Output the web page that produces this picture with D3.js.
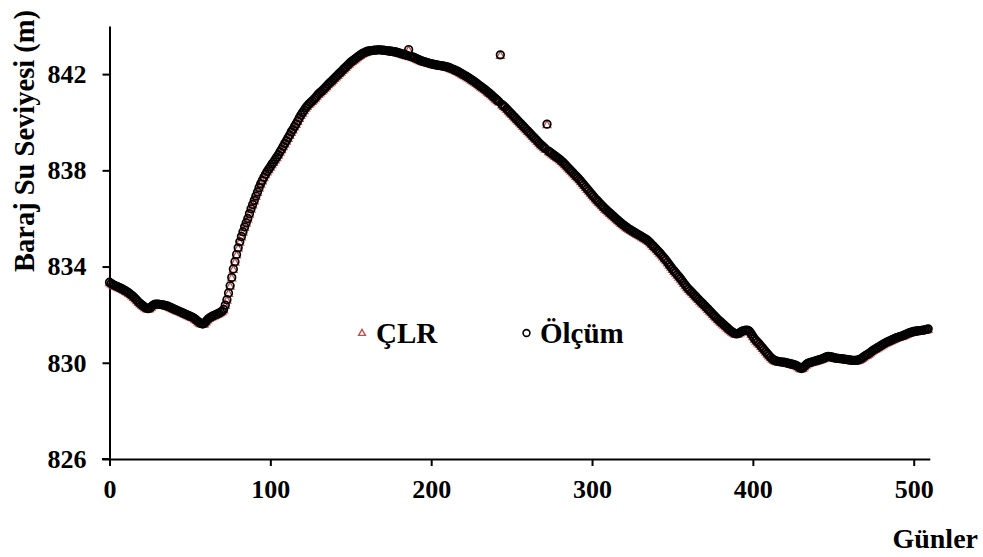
<!DOCTYPE html>
<html><head><meta charset="utf-8">
<script src="https://cdn.jsdelivr.net/npm/d3@7"></script>
<style>body{margin:0;background:#fff}svg{display:block}text{font-family:"Liberation Serif","Times New Roman",serif;font-weight:bold;fill:#000}</style>
</head><body><div id="chart"></div>
<script>
// Daily water level readings (day index = array index)
const olcum = [
833.35,833.30,833.26,833.22,833.19,833.16,833.13,833.10,833.07,833.03,
832.99,832.95,832.90,832.85,832.80,832.74,832.67,832.60,832.53,832.47,
832.41,832.36,832.31,832.27,832.25,832.27,832.33,832.39,832.43,832.44,
832.44,832.43,832.42,832.41,832.40,832.38,832.36,832.33,832.30,832.27,
832.24,832.21,832.18,832.15,832.12,832.09,832.06,832.03,832.00,831.97,
831.94,831.91,831.88,831.83,831.78,831.72,831.67,831.63,831.61,831.64,
831.72,831.80,831.86,831.90,831.94,831.97,832.00,832.03,832.06,832.10,
832.14,832.22,832.40,832.62,832.90,833.20,833.55,833.90,834.20,834.50,
834.78,835.03,835.25,835.45,835.65,835.82,836.00,836.20,836.40,836.58,
836.75,836.93,837.10,837.28,837.44,837.58,837.71,837.84,837.95,838.05,
838.15,838.26,838.35,838.45,838.55,838.65,838.77,838.88,839.00,839.12,
839.23,839.35,839.47,839.60,839.70,839.82,839.93,840.05,840.18,840.30,
840.40,840.50,840.60,840.68,840.76,840.82,840.88,840.95,841.02,841.10,
841.18,841.24,841.30,841.36,841.43,841.50,841.58,841.64,841.70,841.77,
841.84,841.90,841.97,842.04,842.10,842.17,842.24,842.30,842.37,842.43,
842.50,842.55,842.60,842.65,842.70,842.75,842.80,842.85,842.88,842.91,
842.94,842.96,842.97,842.98,842.99,843.00,843.00,843.01,843.01,843.00,
843.00,842.99,842.98,842.97,842.96,842.95,842.94,842.93,842.92,842.90,
842.88,842.86,842.84,842.82,842.80,842.78,843.02,842.74,842.72,842.70,
842.67,842.64,842.61,842.58,842.55,842.53,842.51,842.49,842.47,842.45,
842.43,842.41,842.40,842.39,842.37,842.36,842.35,842.34,842.33,842.31,
842.30,842.28,842.25,842.22,842.19,842.16,842.13,842.10,842.06,842.02,
841.98,841.94,841.90,841.86,841.82,841.77,841.73,841.68,841.63,841.58,
841.53,841.48,841.43,841.38,841.33,841.27,841.22,841.16,841.10,841.04,
840.98,840.92,840.86,842.80,840.74,840.68,840.62,840.55,840.48,840.41,
840.34,840.27,840.20,840.13,840.06,839.99,839.92,839.85,839.78,839.71,
839.64,839.57,839.50,839.43,839.36,839.29,839.22,839.15,839.08,839.02,
838.96,838.90,839.92,838.80,838.75,838.70,838.65,838.60,838.55,838.50,
838.45,838.39,838.33,838.26,838.19,838.12,838.05,837.98,837.91,837.84,
837.77,837.70,837.63,837.55,837.47,837.39,837.31,837.23,837.15,837.07,
836.99,836.91,836.83,836.76,836.69,836.62,836.55,836.48,836.41,836.35,
836.29,836.23,836.17,836.11,836.05,835.99,835.93,835.87,835.81,835.76,
835.71,835.66,835.61,835.56,835.52,835.48,835.44,835.40,835.36,835.32,
835.28,835.24,835.20,835.16,835.12,835.06,835.00,834.93,834.86,834.79,
834.72,834.65,834.58,834.50,834.42,834.34,834.26,834.17,834.08,833.99,
833.90,833.82,833.74,833.66,833.58,833.50,833.41,833.32,833.23,833.14,
833.07,833.00,832.93,832.86,832.79,832.72,832.65,832.58,832.51,832.45,
832.38,832.31,832.24,832.17,832.10,832.03,831.96,831.89,831.82,831.76,
831.70,831.64,831.58,831.52,831.46,831.40,831.34,831.29,831.25,831.21,
831.20,831.22,831.26,831.30,831.33,831.35,831.36,831.35,831.30,831.20,
831.10,831.00,830.92,830.85,830.78,830.70,830.62,830.54,830.46,830.38,
830.30,830.23,830.17,830.12,830.09,830.07,830.05,830.04,830.03,830.03,
830.02,830.00,829.98,829.96,829.95,829.93,829.91,829.89,829.85,829.80,
829.76,829.78,829.85,829.92,829.97,830.00,830.02,830.04,830.06,830.08,
830.10,830.12,830.14,830.16,830.19,830.22,830.25,830.26,830.25,830.24,
830.22,830.20,830.19,830.18,830.17,830.17,830.16,830.15,830.14,830.13,
830.12,830.11,830.10,830.10,830.10,830.11,830.13,830.16,830.20,830.25,
830.30,830.34,830.38,830.43,830.48,830.53,830.57,830.61,830.65,830.69,
830.73,830.77,830.81,830.85,830.88,830.91,830.94,830.97,831.00,831.03,
831.06,831.08,831.10,831.12,831.15,831.18,831.21,831.24,831.26,831.28,
831.30,831.31,831.32,831.33,831.34,831.35,831.36,831.37,831.39,831.41
];
// ÇLR model output coincides with the measurements in the picture
const clr = olcum;
const seriesNames = ["ÇLR", "Ölçüm"];
const xTicks = [0, 100, 200, 300, 400, 500];
const yTicks = [826, 830, 834, 838, 842];

const W = 983, H = 557;
const svg = d3.select("#chart").append("svg").attr("width", W).attr("height", H);
const x = d3.scaleLinear().domain([0, 510]).range([109.5, 929.8]);
const y = d3.scaleLinear().domain([826, 844]).range([459, 26]);

const xAxis = svg.append("g").attr("transform", "translate(0,459)")
  .call(d3.axisBottom(x).tickValues(xTicks).tickSize(7).tickPadding(14).tickSizeOuter(0));
const yAxis = svg.append("g").attr("transform", "translate(109.5,0)")
  .call(d3.axisLeft(y).tickValues(yTicks).tickSize(7).tickPadding(16).tickSizeOuter(0));
[xAxis, yAxis].forEach(g => {
  g.selectAll("path.domain").attr("stroke", "#000").attr("stroke-width", 2);
  g.selectAll(".tick line").attr("stroke", "#000").attr("stroke-width", 2);
  g.selectAll(".tick text").style("font-family", '"Liberation Serif",serif')
   .style("font-weight", "bold").style("font-size", "26px").attr("fill", "#000");
});
svg.append("line").attr("x1", 102).attr("x2", 109.5).attr("y1", 459).attr("y2", 459)
  .attr("stroke", "#000").attr("stroke-width", 2);

const red = "#c0504d";
const triPath = "M0,-4.2L3.9,2.6L-3.9,2.6Z";

svg.append("g").selectAll("path").data(clr).join("path")
  .attr("d", triPath)
  .attr("transform", (d, i) => `translate(${x(i)},${y(d) + 0.8})`)
  .attr("fill", "none").attr("stroke", red).attr("stroke-width", 1.3);

svg.append("g").selectAll("circle").data(olcum).join("circle")
  .attr("cx", (d, i) => x(i)).attr("cy", d => y(d)).attr("r", 3.8)
  .attr("fill", "none").attr("stroke", "#000").attr("stroke-width", 1.7);

// legend
svg.append("path").attr("d", "M0,-3.6L3.4,2.4L-3.4,2.4Z").attr("transform", "translate(362,333)")
  .attr("fill", "none").attr("stroke", red).attr("stroke-width", 1.4);
svg.append("text").attr("x", 376).attr("y", 343).style("font-size", "29px").text(seriesNames[0]);
svg.append("circle").attr("cx", 526.5).attr("cy", 333).attr("r", 3.4)
  .attr("fill", "none").attr("stroke", "#000").attr("stroke-width", 1.6);
svg.append("text").attr("x", 540).attr("y", 343).style("font-size", "29px").text(seriesNames[1]);

// axis titles
svg.append("text").attr("x", 978).attr("y", 548).attr("text-anchor", "end")
  .style("font-size", "28px").text("Günler");
svg.append("text").attr("transform", "translate(33.5,141) rotate(-90)")
  .attr("text-anchor", "middle").style("font-size", "28.5px").text("Baraj Su Seviyesi (m)");
</script>
</body></html>
